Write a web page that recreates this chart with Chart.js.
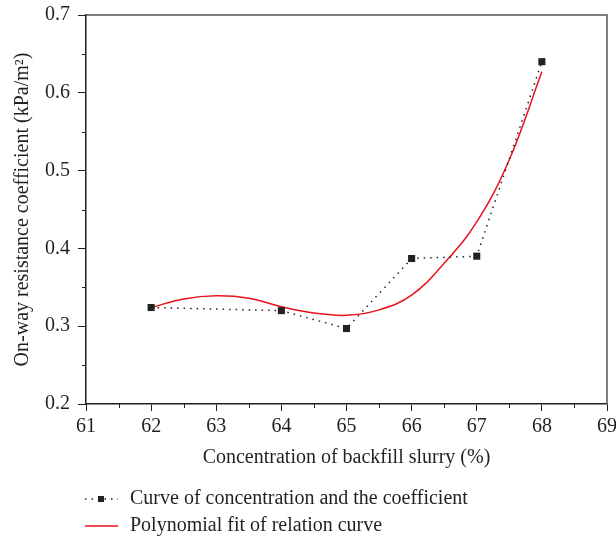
<!DOCTYPE html>
<html>
<head>
<meta charset="utf-8">
<script src="https://cdn.jsdelivr.net/npm/chart.js@4"></script>
<style>
  body { margin: 0; background: #fff; }
  #wrap { width: 616px; height: 541px; }
</style>
</head>
<body>
<div id="wrap"><canvas id="lineChart"></canvas></div>
<script>
// measured points
const concentration = [62, 64, 65, 66, 67, 68];
const coefficient = [0.324, 0.320, 0.297, 0.387, 0.390, 0.640];

// polynomial fit, sampled every 0.5 %
const fitX = [62, 62.5, 63, 63.5, 64, 64.5, 65, 65.5, 66, 66.5, 67, 67.5, 68];
const fitY = [0.324, 0.335, 0.339, 0.336, 0.325, 0.317, 0.314, 0.321, 0.340, 0.381, 0.434, 0.514, 0.627];

const xMin = 61, xMax = 69;
const yMin = 0.2, yMax = 0.7;

const seriesLabels = [
    "Curve of concentration and the coefficient",
    "Polynomial fit of relation curve"
];

const FONT = "'Liberation Serif', 'DejaVu Serif', serif";
const INK = "#231f20";

// minor ticks, top/right frame and the legend under the plot
const extras = {
    id: "extras",
    afterDraw(chart) {
        const ctx = chart.ctx;
        const a = chart.chartArea;
        const xs = chart.scales.x, ys = chart.scales.y;
        ctx.save();
        ctx.strokeStyle = INK;
        ctx.lineWidth = 1;
        for (let v = xMin + 0.5; v < xMax; v += 1) {
            const px = Math.round(xs.getPixelForValue(v)) + 0.5;
            ctx.beginPath();
            ctx.moveTo(px, a.bottom);
            ctx.lineTo(px, a.bottom + 4);
            ctx.stroke();
        }
        for (let v = yMin + 0.05; v < yMax; v += 0.1) {
            const py = Math.round(ys.getPixelForValue(v)) + 0.5;
            ctx.beginPath();
            ctx.moveTo(a.left - 4, py);
            ctx.lineTo(a.left, py);
            ctx.stroke();
        }
        ctx.strokeStyle = "#555";
        ctx.lineWidth = 1.5;
        ctx.beginPath();
        ctx.moveTo(a.left, a.top);
        ctx.lineTo(a.right, a.top);
        ctx.lineTo(a.right, a.bottom);
        ctx.stroke();

        // legend
        const rows = [499, 526];
        ctx.font = "20px " + FONT;
        ctx.textBaseline = "middle";
        chart.data.datasets.forEach((ds, i) => {
            const y = rows[i];
            ctx.strokeStyle = ds.borderColor;
            ctx.lineWidth = ds.borderWidth;
            ctx.setLineDash(ds.borderDash || []);
            ctx.beginPath();
            ctx.moveTo(85, y);
            ctx.lineTo(118, y);
            ctx.stroke();
            ctx.setLineDash([]);
            if (ds.pointRadius > 0) {
                ctx.fillStyle = ds.pointBackgroundColor;
                ctx.fillRect(98, y - 3, 6, 6);
            }
            ctx.fillStyle = INK;
            ctx.fillText(ds.label, 130, y);
        });
        ctx.restore();
    }
};

new Chart(document.getElementById("lineChart"), {
    type: "line",
    data: {
        datasets: [{
            label: seriesLabels[0],
            data: concentration.map((c, i) => ({ x: c, y: coefficient[i] })),
            borderColor: "#222",
            borderWidth: 1.5,
            borderDash: [1.5, 5],
            pointStyle: "rect",
            pointRadius: 5,
            pointBackgroundColor: "#222",
            pointBorderWidth: 0,
            tension: 0
        }, {
            label: seriesLabels[1],
            data: fitX.map((c, i) => ({ x: c, y: fitY[i] })),
            borderColor: "#e8121c",
            borderWidth: 1.5,
            pointRadius: 0,
            tension: 0.4
        }]
    },
    options: {
        responsive: true,
        maintainAspectRatio: false,
        animation: false,
        events: [],
        layout: { padding: { top: 15, right: 9, bottom: 70, left: 0 } },
        plugins: {
            legend: { display: false },
            tooltip: { enabled: false }
        },
        scales: {
            x: {
                type: "linear",
                min: xMin,
                max: xMax,
                afterFit: s => {
                    s.height = 67;
                    s.paddingLeft = 0;
                    s.paddingRight = 0;
                },
                ticks: {
                    stepSize: 1,
                    padding: 4,
                    color: INK,
                    font: { family: FONT, size: 20 }
                },
                grid: {
                    drawOnChartArea: false,
                    tickLength: 7,
                    tickColor: INK
                },
                border: { color: INK, width: 1.5 },
                title: {
                    display: true,
                    text: "Concentration of backfill slurry (%)",
                    color: INK,
                    font: { family: FONT, size: 20 },
                    padding: { top: 0, bottom: 1 }
                }
            },
            y: {
                min: yMin,
                max: yMax,
                afterFit: s => {
                    s.width = 86;
                    s.paddingTop = 0;
                    s.paddingBottom = 0;
                },
                ticks: {
                    stepSize: 0.1,
                    padding: 8,
                    color: INK,
                    font: { family: FONT, size: 20 },
                    callback: v => v.toFixed(1)
                },
                grid: {
                    drawOnChartArea: false,
                    tickLength: 8,
                    tickColor: INK
                },
                border: { color: INK, width: 1.5 },
                title: {
                    display: true,
                    text: "On-way resistance coefficient (kPa/m²)",
                    color: INK,
                    font: { family: FONT, size: 20 },
                    padding: { top: 11, bottom: 0 }
                }
            }
        }
    },
    plugins: [extras]
});
</script>
</body>
</html>
